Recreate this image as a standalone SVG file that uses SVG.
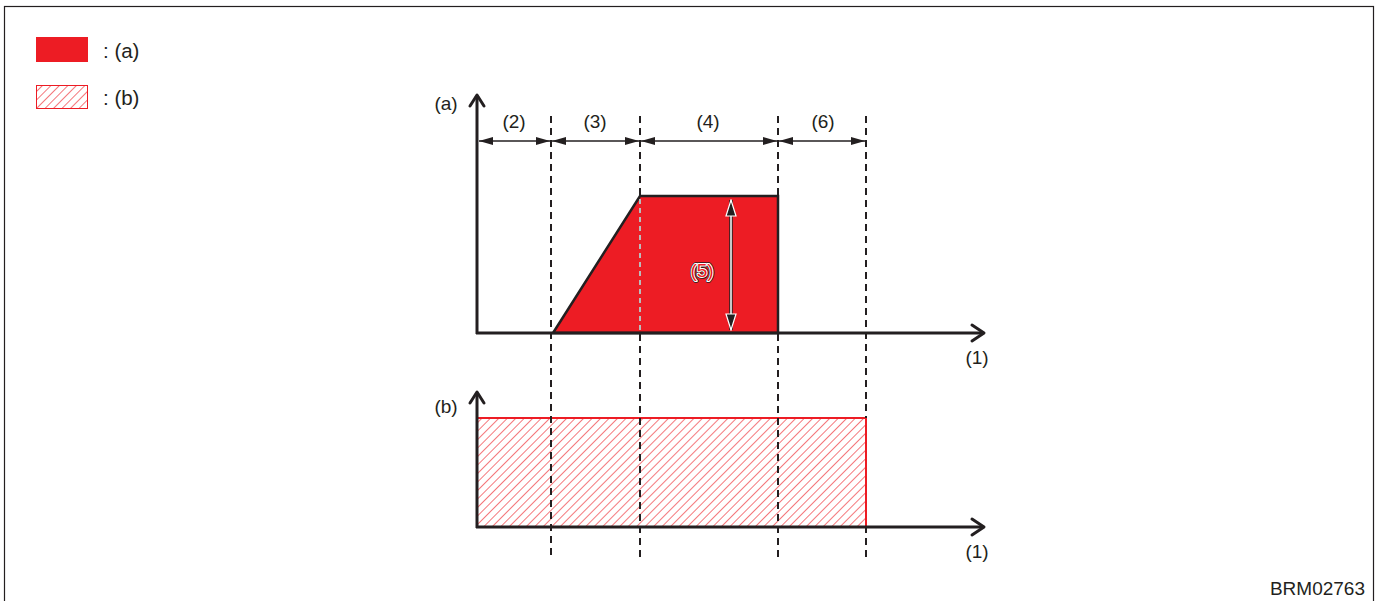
<svg xmlns="http://www.w3.org/2000/svg" width="1378" height="601" viewBox="0 0 1378 601">
<style>
text{font-family:"Liberation Sans",Arial,sans-serif;font-size:19px;fill:#231f20}
.lg{font-size:20.5px}
.ax{stroke:#231f20;stroke-width:3;fill:none}
.dash{stroke:#231f20;stroke-width:2;stroke-dasharray:7,5;fill:none}
.dim{stroke:#231f20;stroke-width:1.5;fill:none}
.chev{stroke:#231f20;stroke-width:3;fill:none;stroke-linecap:round;stroke-linejoin:round}
</style>
<defs>
<pattern id="hatch" patternUnits="userSpaceOnUse" width="6" height="6" patternTransform="rotate(45)">
<rect width="6" height="6" fill="#fff"/>
<line x1="0" y1="0" x2="0" y2="6" stroke="#ed1c24" stroke-width="1.2"/>
</pattern>
<marker id="ah" viewBox="0 0 14 8" refX="14" refY="4" markerWidth="14" markerHeight="8" markerUnits="userSpaceOnUse" orient="auto-start-reverse">
<path d="M0,0 L14,4 L0,8 Z" fill="#231f20"/>
</marker>
<marker id="ahw" viewBox="0 0 18 12" refX="17" refY="6" markerWidth="18" markerHeight="12" markerUnits="userSpaceOnUse" orient="auto-start-reverse">
<path d="M1,1 L17,6 L1,11 Z" fill="#231f20" stroke="#fff" stroke-width="1.2"/>
</marker>
</defs>
<rect x="4.5" y="6.5" width="1369" height="600" fill="#fff" stroke="#231f20" stroke-width="1.2"/>

<g id="legend">
<rect x="36" y="37" width="52" height="25" fill="#ed1c24"/>
<text x="103" y="58" class="lg">: (a)</text>
<rect x="36.5" y="85.5" width="51" height="23" fill="url(#hatch)" stroke="#ed1c24" stroke-width="1"/>
<text x="103" y="105" class="lg">: (b)</text>
</g>

<g id="chart-a">
<polygon points="553,333 640,196 778,196 778,333" fill="#ed1c24" stroke="#231f20" stroke-width="2.5"/>
<line x1="640" y1="199" x2="640" y2="332" stroke="#bbb" stroke-width="2" stroke-dasharray="5,4"/>
<line x1="731" y1="200" x2="731" y2="330" stroke="#231f20" stroke-width="3.5"/>
<line x1="731" y1="200" x2="731" y2="330" stroke="#fff" stroke-width="1.5" marker-start="url(#ahw)" marker-end="url(#ahw)"/>
<text x="702" y="277" text-anchor="middle" style="fill:none;stroke:#231f20;stroke-width:3.5px;stroke-linejoin:round">(5)</text>
<text x="702" y="277" text-anchor="middle" style="fill:none;stroke:#fff;stroke-width:2px;stroke-linejoin:round">(5)</text>
<text x="702" y="277" text-anchor="middle" style="fill:#ed1c24">(5)</text>
<line x1="477" y1="96" x2="477" y2="334" class="ax"/>
<path d="M470,106 L477,95 L484,106" class="chev"/>
<line x1="476" y1="333" x2="982" y2="333" class="ax"/>
<path d="M972,325 L984,333 L972,341" class="chev"/>
<text x="446" y="110" text-anchor="middle">(a)</text>
<text x="977" y="364" text-anchor="middle">(1)</text>
</g>

<g id="chart-b">
<rect x="477" y="418" width="389" height="108" fill="url(#hatch)"/>
<line x1="477" y1="418" x2="866" y2="418" stroke="#ed1c24" stroke-width="2"/>
<line x1="866" y1="418" x2="866" y2="526" stroke="#ed1c24" stroke-width="2"/>
<line x1="477" y1="393" x2="477" y2="528" class="ax"/>
<path d="M470,403 L477,392 L484,403" class="chev"/>
<line x1="476" y1="527" x2="982" y2="527" class="ax"/>
<path d="M972,519 L984,527 L972,535" class="chev"/>
<text x="446" y="413" text-anchor="middle">(b)</text>
<text x="977" y="558" text-anchor="middle">(1)</text>
</g>

<g id="connectors">
<line x1="551" y1="116" x2="551" y2="560" class="dash"/>
<line x1="640" y1="116" x2="640" y2="196" class="dash"/>
<line x1="640" y1="334" x2="640" y2="560" class="dash"/>
<line x1="778" y1="116" x2="778" y2="196" class="dash"/>
<line x1="778" y1="334" x2="778" y2="560" class="dash"/>
<line x1="866" y1="116" x2="866" y2="418" class="dash"/>
<line x1="866" y1="526" x2="866" y2="560" class="dash"/>
<line x1="479" y1="141" x2="550" y2="141" class="dim" marker-start="url(#ah)" marker-end="url(#ah)"/>
<line x1="552" y1="141" x2="639" y2="141" class="dim" marker-start="url(#ah)" marker-end="url(#ah)"/>
<line x1="641" y1="141" x2="777" y2="141" class="dim" marker-start="url(#ah)" marker-end="url(#ah)"/>
<line x1="779" y1="141" x2="865" y2="141" class="dim" marker-start="url(#ah)" marker-end="url(#ah)"/>
<text x="514" y="128" text-anchor="middle">(2)</text>
<text x="595" y="128" text-anchor="middle">(3)</text>
<text x="708" y="128" text-anchor="middle">(4)</text>
<text x="823" y="128" text-anchor="middle">(6)</text>
</g>

<text x="1365" y="595" text-anchor="end">BRM02763</text>
</svg>
